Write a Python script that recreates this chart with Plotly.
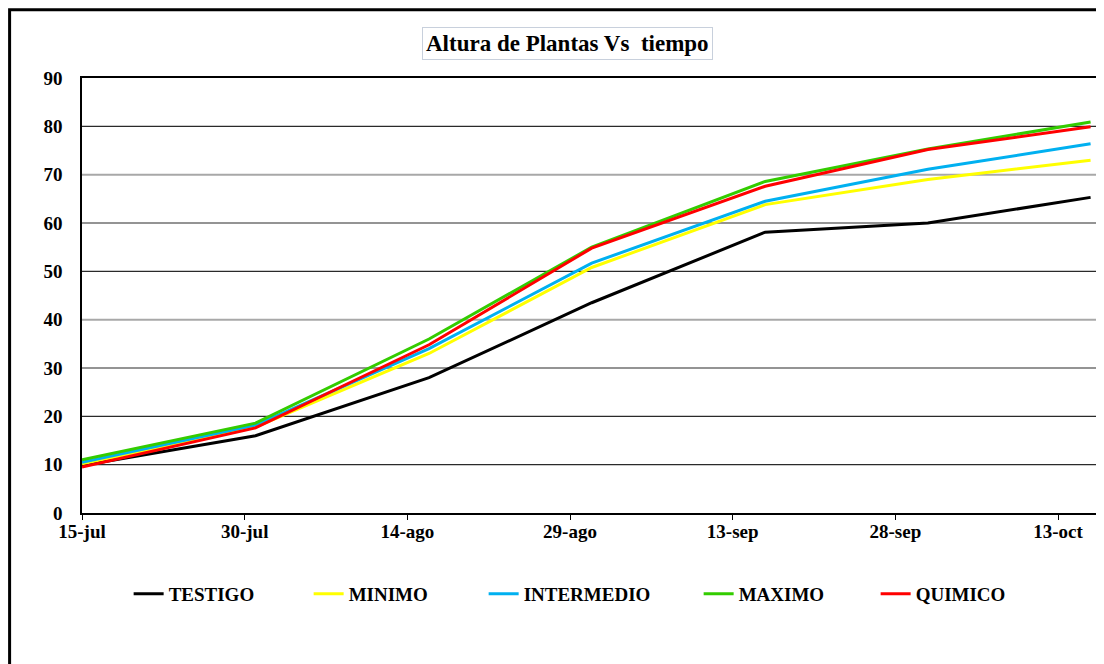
import plotly.graph_objects as go

fechas = ["2008-07-15", "2008-07-31", "2008-08-16", "2008-08-31",
          "2008-09-16", "2008-10-01", "2008-10-16"]
testigo = [9.8, 16.0, 28.0, 43.5, 58.1, 60.0, 65.3]
minimo = [10.2, 17.8, 33.0, 50.8, 63.8, 69.0, 73.0]
intermedio = [10.5, 18.2, 34.0, 51.7, 64.5, 71.1, 76.4]
maximo = [11.0, 18.6, 36.0, 55.0, 68.6, 75.3, 80.9]
quimico = [9.5, 17.6, 34.8, 54.8, 67.6, 75.2, 79.9]

series_names = ["TESTIGO", "MINIMO", "INTERMEDIO", "MAXIMO", "QUIMICO"]
series_vals = [testigo, minimo, intermedio, maximo, quimico]
colors = ["#000000", "#FFFF00", "#00B0F0", "#33CC00", "#FF0000"]
legend_widths = [135, 130, 170, 132, 100]

tick_vals = ["2008-07-15", "2008-07-30", "2008-08-14", "2008-08-29",
             "2008-09-13", "2008-09-28", "2008-10-13"]
tick_text = ["15-jul", "30-jul", "14-ago", "29-ago", "13-sep", "28-sep", "13-oct"]
y_ticks = [0, 10, 20, 30, 40, 50, 60, 70, 80, 90]
dark_grid = [10, 20, 30, 50, 60, 80]
grey_grid = [40, 70]

FONT = "Liberation Serif, Times New Roman, serif"

fig = go.Figure()
for name, vals, col, lw in zip(series_names, series_vals, colors, legend_widths):
    fig.add_trace(go.Scatter(x=fechas, y=vals, name=name, mode="lines",
                             line=dict(color=col, width=3), legendwidth=lw))

for v in dark_grid:
    fig.add_hline(y=v, line=dict(color="#2a2a2a", width=1.2), layer="below")
for v in grey_grid:
    fig.add_hline(y=v, line=dict(color="#a8a8a8", width=2), layer="below")

fig.update_layout(
    width=1096, height=656,
    margin=dict(l=74, r=6, t=70, b=151),
    paper_bgcolor="white", plot_bgcolor="white",
    font=dict(family=FONT, color="black", size=19),
    xaxis=dict(type="date", range=["2008-07-15", "2008-10-16 12:00"],
               tickvals=tick_vals, ticktext=tick_text,
               tickfont=dict(family=FONT, size=19, weight="bold"),
               showgrid=False, showline=True, linecolor="black", linewidth=1.5,
               mirror=True, ticks="outside", ticklen=5, tickcolor="black",
               ticklabelstandoff=-5, zeroline=False),
    yaxis=dict(range=[0, 90], tickvals=y_ticks,
               tickfont=dict(family=FONT, size=19, weight="bold"),
               showgrid=False,
               showline=True, linecolor="black", linewidth=1.5, mirror=True,
               ticks="", ticklabelstandoff=14, zeroline=False),
    legend=dict(orientation="h", x=0.046, xanchor="left", y=-0.186,
                yanchor="middle", font=dict(family=FONT, size=19, weight="bold"),
                bgcolor="rgba(0,0,0,0)"),
    showlegend=True,
)

fig.add_annotation(
    text="Altura de Plantas Vs\u00a0 tiempo", xref="paper", yref="paper",
    x=0.479, y=1.08, xanchor="center", yanchor="middle", showarrow=False,
    font=dict(family=FONT, size=23, weight="bold", color="black"),
    bordercolor="#c8d0dc", borderwidth=1, borderpad=3, bgcolor="white",
)

fig.add_shape(type="rect", xref="paper", yref="paper",
              x0=-0.0714, x1=1.03, y0=-0.40, y1=1.157,
              line=dict(color="black", width=3), layer="above")

fig.write_html("out.html")
